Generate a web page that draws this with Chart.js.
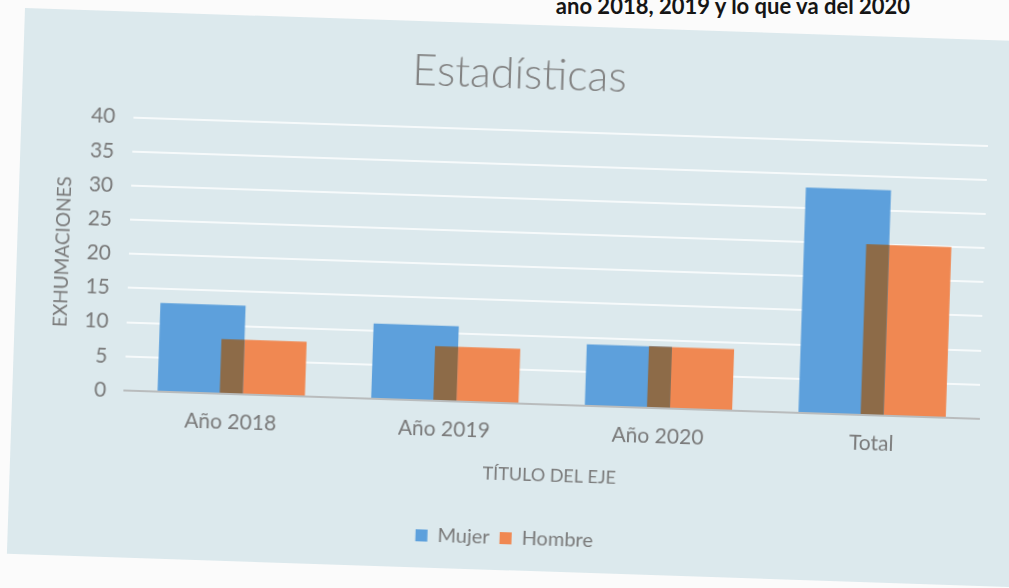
<!DOCTYPE html>
<html lang="es">
<head>
<meta charset="utf-8">
<title>Estadísticas</title>
<script src="https://cdn.jsdelivr.net/npm/chart.js@4.4.1/dist/chart.umd.min.js"></script>
<style>
  html, body { margin: 0; padding: 0; width: 1009px; height: 588px; overflow: hidden; background: #fbfbfb; }
  #encabezado { position: absolute; right: 99px; top: -9px; font: bold 22px Lato, sans-serif; color: #151515; white-space: nowrap; line-height: 30px; }
  #hoja { position: absolute; left: 25px; top: 8px; width: 1010px; height: 546px; background: #dce9ed; transform-origin: 0 0; transform: rotate(1.9deg); }
  #grafica { position: absolute; left: 0; top: 0; }
</style>
</head>
<body>
<div id="encabezado">año 2018, 2019 y lo que va del 2020</div>
<div id="hoja"><canvas id="grafica" width="975" height="545"></canvas></div>
<script>
// datos
const categorias = ["Año 2018", "Año 2019", "Año 2020", "Total"];
const mujer = [13, 11, 9, 33];
const hombre = [8, 8, 9, 25];
const ejeY = { min: 0, max: 40, paso: 5 };

const colorMujer = "#5da0dc";
const colorHombre = "#f08852";
const colorTraslape = "#8d6b48";
const colorTexto = "#7a7a7a";
const fuente = "Lato, 'Open Sans', sans-serif";

// pinta la zona donde se enciman las dos barras
const traslape = {
  id: "traslape",
  afterDatasetsDraw(chart) {
    const barrasM = chart.getDatasetMeta(0).data;
    const barrasH = chart.getDatasetMeta(1).data;
    const ctx = chart.ctx;
    ctx.save();
    ctx.fillStyle = colorTraslape;
    barrasM.forEach((m, i) => {
      const h = barrasH[i];
      const izq = h.x - h.width / 2;
      const der = m.x + m.width / 2;
      const arriba = Math.max(m.y, h.y);
      const base = Math.min(m.base, h.base);
      if (der > izq && base > arriba) ctx.fillRect(izq, arriba, der - izq, base - arriba);
    });
    ctx.restore();
  },
};

new Chart(document.getElementById("grafica"), {
  type: "bar",
  data: {
    labels: categorias,
    datasets: [
      { label: "Mujer", data: mujer, backgroundColor: colorMujer },
      { label: "Hombre", data: hombre, backgroundColor: colorHombre },
    ],
  },
  options: {
    responsive: false,
    animation: false,
    categoryPercentage: 0.582,
    barPercentage: 1.37,
    layout: { padding: { left: 26, right: 8, top: 0, bottom: 11 } },
    plugins: {
      title: {
        display: true,
        text: "Estadísticas",
        color: "#828282",
        font: { family: fuente, size: 43, weight: 300 },
        padding: { top: 24, bottom: 30 },
      },
      legend: {
        position: "bottom",
        labels: {
          color: colorTexto,
          font: { family: fuente, size: 20 },
          boxWidth: 12,
          boxHeight: 12,
          padding: 10,
        },
      },
      tooltip: { enabled: false },
    },
    scales: {
      x: {
        grid: { display: false, drawTicks: false },
        border: { display: true, color: "#b9bcbd", width: 2 },
        ticks: { color: colorTexto, font: { family: fuente, size: 21 }, padding: 16 },
        title: {
          display: true,
          text: "TÍTULO DEL EJE",
          color: colorTexto,
          font: { family: fuente, size: 18 },
          padding: { top: 0, bottom: 33 },
        },
        afterFit: (s) => { s.height = 115; },
      },
      y: {
        min: ejeY.min,
        max: ejeY.max,
        grid: { color: "rgba(255,255,255,0.75)", lineWidth: 2, drawTicks: false },
        border: { display: false },
        ticks: { stepSize: ejeY.paso, color: colorTexto, font: { family: fuente, size: 21 }, padding: 18 },
        title: {
          display: true,
          text: "EXHUMACIONES",
          color: colorTexto,
          font: { family: fuente, size: 19 },
          padding: { top: 8, bottom: 0 },
        },
        afterFit: (s) => { s.width = 86; },
      },
    },
  },
  plugins: [traslape],
});
</script>
</body>
</html>
